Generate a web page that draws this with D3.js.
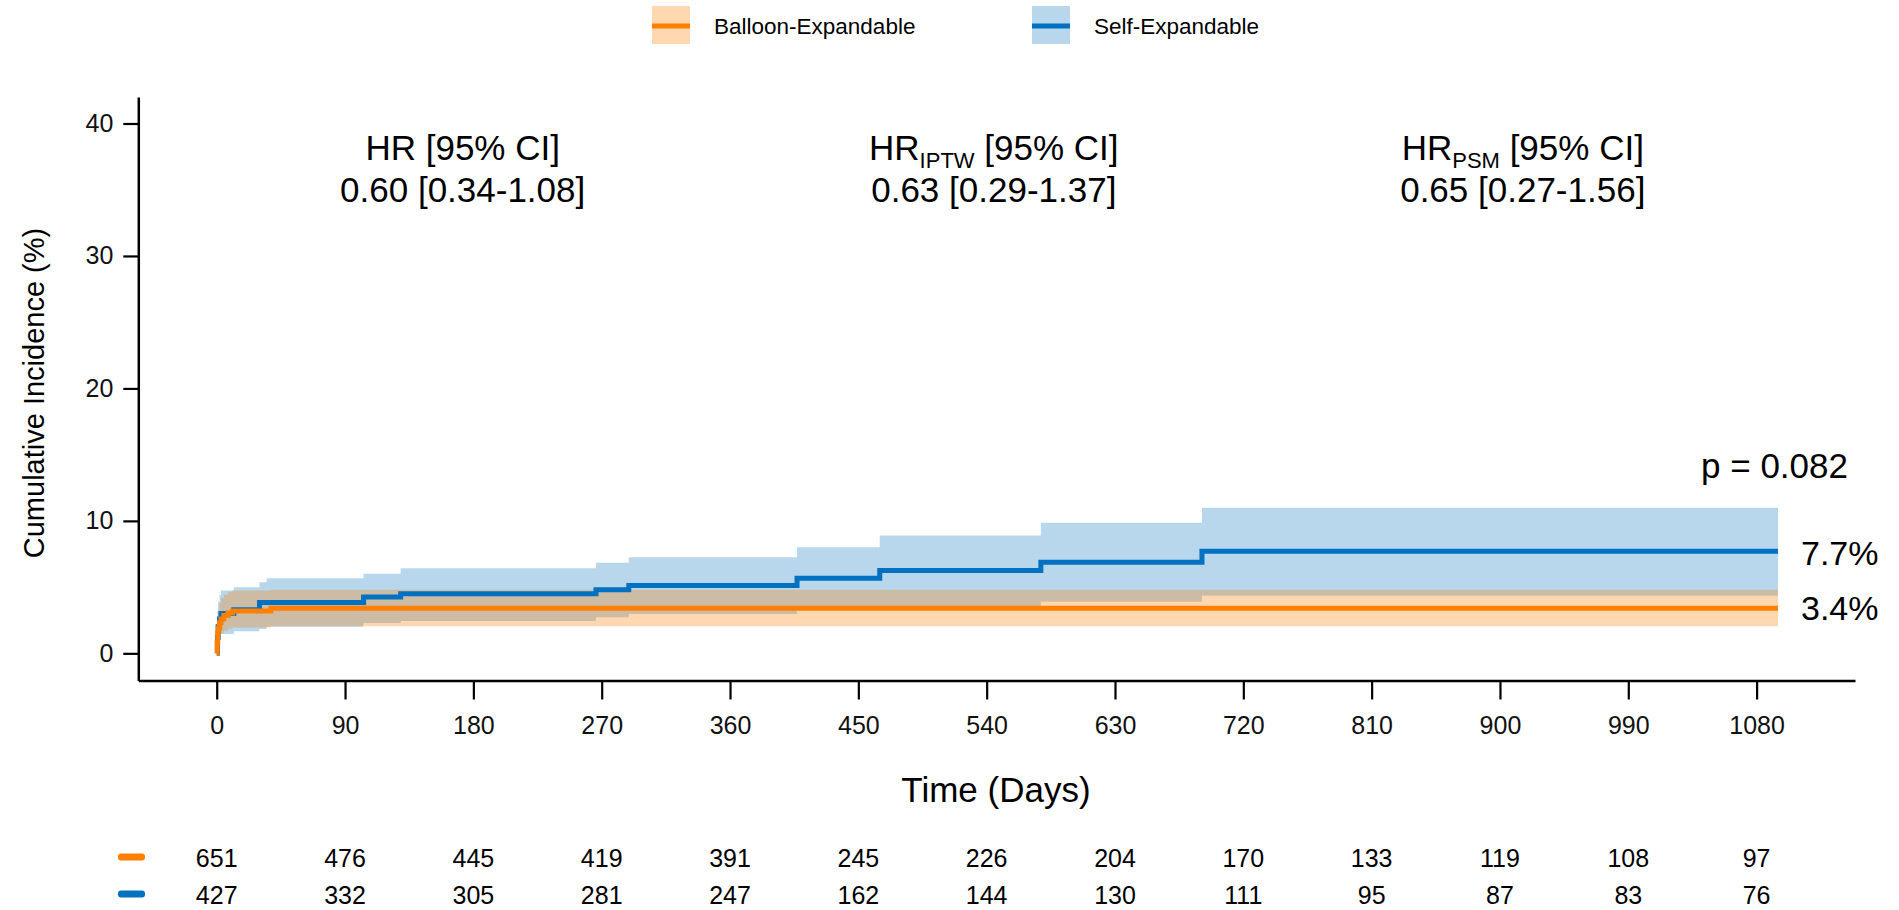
<!DOCTYPE html>
<html>
<head>
<meta charset="utf-8">
<script src="https://cdn.jsdelivr.net/npm/d3@7"></script>
<style>
  html, body { margin: 0; padding: 0; background: #fff; }
  svg { display: block; font-family: "Liberation Sans", Arial, sans-serif; }
</style>
</head>
<body>
<div id="chart"></div>
<script>
// x axis ticks (days) and numbers at risk
const timeTicks = [0, 90, 180, 270, 360, 450, 540, 630, 720, 810, 900, 990, 1080];
const yTicks = [0, 10, 20, 30, 40];
const riskBalloon = [651, 476, 445, 419, 391, 245, 226, 204, 170, 133, 119, 108, 97];
const riskSelf = [427, 332, 305, 281, 247, 162, 144, 130, 111, 95, 87, 83, 76];

// Balloon-Expandable: step times, estimate and 95% CI (%)
const beTime  = [0, 0.3, 0.7, 1, 2, 3, 5, 8, 11, 38, 1095];
const beEst   = [0, 0.8, 1.5, 1.9, 2.3, 2.6, 2.85, 3.05, 3.2, 3.4, 3.4];
const beLower = [0, 0.2, 0.7, 1.0, 1.3, 1.5, 1.7, 1.85, 1.95, 2.05, 2.05];
const beUpper = [0, 2.0, 2.8, 3.3, 3.8, 4.2, 4.45, 4.65, 4.75, 4.8, 4.8];

// Self-Expandable
const seTime  = [0, 0.5, 1, 2, 3, 12, 30, 35, 103, 129, 266, 289, 407, 465, 578, 691, 1095];
const seEst   = [0, 1.2, 2.0, 2.6, 3.0, 3.3, 3.83, 3.83, 4.25, 4.49, 4.81, 5.12, 5.67, 6.25, 6.88, 7.71, 7.71];
const seLower = [0, 0.3, 0.8, 1.2, 1.46, 1.66, 1.84, 2.0, 2.3, 2.45, 2.72, 2.97, 3.45, 3.5, 3.9, 4.35, 4.35];
const seUpper = [0, 3.2, 3.9, 4.4, 4.74, 4.99, 5.37, 5.67, 6.0, 6.42, 6.83, 7.26, 8.01, 8.9, 9.85, 10.99, 10.99];

const hrLabels = [
    { head: 'HR', sub: '', value: '0.60 [0.34-1.08]', day: 172.5 },
    { head: 'HR', sub: 'IPTW', value: '0.63 [0.29-1.37]', day: 545 },
    { head: 'HR', sub: 'PSM', value: '0.65 [0.27-1.56]', day: 916 }
];

const ORANGE = '#ff7f00';
const BLUE = '#0070c0';
const FONT = '"Liberation Sans", Arial, sans-serif';

const width = 1899, height = 910;
const svg = d3.select('#chart').append('svg')
    .attr('width', width)
    .attr('height', height);

const x = d3.scaleLinear().domain([-55, 1149]).range([138.3, 1855]);
const y = d3.scaleLinear().domain([-2.05, 42]).range([680.5, 97]);

const toRows = (t, e, lo, up) => t.map((d, i) => ({ t: d, est: e[i], lo: lo[i], up: up[i] }));
const beRows = toRows(beTime, beEst, beLower, beUpper);
const seRows = toRows(seTime, seEst, seLower, seUpper);

const area = d3.area()
    .curve(d3.curveStepAfter)
    .x(d => x(d.t))
    .y0(d => y(d.lo))
    .y1(d => y(d.up));

const line = d3.line()
    .curve(d3.curveStepAfter)
    .x(d => x(d.t))
    .y(d => y(d.est));

// Confidence bands (orange drawn over blue)
svg.append('path').datum(seRows)
    .attr('d', area)
    .attr('fill', BLUE)
    .attr('fill-opacity', 0.28);
svg.append('path').datum(beRows)
    .attr('d', area)
    .attr('fill', ORANGE)
    .attr('fill-opacity', 0.3);

// Curves
svg.append('path').datum(seRows)
    .attr('d', line)
    .attr('fill', 'none')
    .attr('stroke', BLUE)
    .attr('stroke-width', 5);
svg.append('path').datum(beRows)
    .attr('d', line)
    .attr('fill', 'none')
    .attr('stroke', ORANGE)
    .attr('stroke-width', 5);

// Axes
const xAxis = svg.append('g')
    .attr('transform', `translate(0,${y(-2.05)})`)
    .call(d3.axisBottom(x).tickValues(timeTicks).tickFormat(d3.format('d'))
        .tickSize(19).tickPadding(17).tickSizeOuter(0));
const yAxis = svg.append('g')
    .attr('transform', `translate(${x(-55)},0)`)
    .call(d3.axisLeft(y).tickValues(yTicks).tickSize(15).tickPadding(10).tickSizeOuter(0));

[xAxis, yAxis].forEach(g => {
    g.select('.domain').attr('stroke', '#000').attr('stroke-width', 2.5);
    g.selectAll('.tick line').attr('stroke', '#000').attr('stroke-width', 2.2);
    g.selectAll('.tick text')
        .attr('fill', '#111')
        .style('font-size', '25px')
        .style('font-family', FONT);
});

// Axis titles
svg.append('text')
    .attr('x', 996)
    .attr('y', 802)
    .attr('text-anchor', 'middle')
    .style('font-size', '35px')
    .text('Time (Days)');

svg.append('text')
    .attr('transform', 'translate(44,393) rotate(-90)')
    .attr('text-anchor', 'middle')
    .style('font-size', '29px')
    .text('Cumulative Incidence (%)');

// Hazard ratio annotations
hrLabels.forEach(h => {
    const t = svg.append('text')
        .attr('x', x(h.day))
        .attr('y', 160)
        .attr('text-anchor', 'middle')
        .style('font-size', '35px');
    t.append('tspan').text(h.head);
    if (h.sub) {
        t.append('tspan').attr('dy', 8).style('font-size', '22px').text(h.sub);
        t.append('tspan').attr('dy', -8).text(' [95% CI]');
    } else {
        t.append('tspan').text(' [95% CI]');
    }
    svg.append('text')
        .attr('x', x(h.day))
        .attr('y', 202)
        .attr('text-anchor', 'middle')
        .style('font-size', '35px')
        .text(h.value);
});

// p value and end-point labels
svg.append('text')
    .attr('x', 1848)
    .attr('y', 478)
    .attr('text-anchor', 'end')
    .style('font-size', '35px')
    .text('p = 0.082');

svg.append('text')
    .attr('x', 1801)
    .attr('y', 565)
    .style('font-size', '34px')
    .text(seEst[seEst.length - 1].toFixed(1) + '%');
svg.append('text')
    .attr('x', 1801)
    .attr('y', 620)
    .style('font-size', '34px')
    .text(beEst[beEst.length - 1].toFixed(1) + '%');

// Legend
const legendItems = [
    { label: 'Balloon-Expandable', color: ORANGE, opacity: 0.3, x: 652 },
    { label: 'Self-Expandable', color: BLUE, opacity: 0.28, x: 1032 }
];
const legend = svg.append('g');
legendItems.forEach(d => {
    const g = legend.append('g').attr('transform', `translate(${d.x},6)`);
    g.append('rect').attr('width', 38).attr('height', 38)
        .attr('fill', d.color).attr('fill-opacity', d.opacity);
    g.append('line').attr('x1', 0).attr('x2', 38).attr('y1', 20).attr('y2', 20)
        .attr('stroke', d.color).attr('stroke-width', 5);
    g.append('text').attr('x', 62).attr('y', 28)
        .style('font-size', '22.5px')
        .text(d.label);
});

// Numbers at risk
const riskRows = [
    { values: riskBalloon, color: ORANGE, y: 857 },
    { values: riskSelf, color: BLUE, y: 894 }
];
riskRows.forEach(r => {
    svg.append('rect')
        .attr('x', 118).attr('y', r.y - 3.5)
        .attr('width', 27).attr('height', 7)
        .attr('rx', 3)
        .attr('fill', r.color);
    svg.append('g').selectAll('text')
        .data(r.values)
        .join('text')
        .attr('x', (d, i) => x(timeTicks[i]))
        .attr('y', r.y + 10)
        .attr('text-anchor', 'middle')
        .style('font-size', '25px')
        .text(d => d);
});
</script>
</body>
</html>
